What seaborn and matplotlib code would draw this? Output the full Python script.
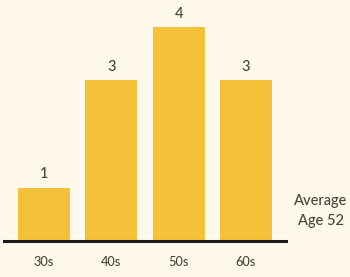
import matplotlib
matplotlib.use("Agg")
import matplotlib.pyplot as plt
import seaborn as sns
import pandas as pd

categories = ["30s", "40s", "50s", "60s"]
counts = [1, 3, 4, 3]
side_note = "Average\nAge 52"

bg = "#FEF9EC"
bar_color = "#F3C13A"
text_color = "#4A4536"

sns.set_theme(style="white")
plt.rcParams['font.family'] = ['Lato', 'DejaVu Sans']

df = pd.DataFrame({"age": categories, "count": counts})

fig = plt.figure(figsize=(3.5, 2.77), dpi=100)
fig.patch.set_facecolor(bg)
ax = fig.add_axes([4/350, 36/277, 282/350, 241/277])
ax.set_facecolor(bg)

sns.barplot(data=df, x="age", y="count", color=bar_color, width=0.77,
            saturation=1, ax=ax, edgecolor="none")

ax.set_xlim(-0.594, 3.594)
ax.set_ylim(0, 241/53.5)

for i, v in enumerate(counts):
    ax.annotate(str(v), (i, v), xytext=(0, 4.5), textcoords="offset points",
                ha="center", va="bottom", fontsize=10.5, color=text_color,
                fontweight="medium")

for s in ["top", "right", "left"]:
    ax.spines[s].set_visible(False)
ax.spines["bottom"].set_color("#1A1A1A")
ax.spines["bottom"].set_linewidth(2.2)
ax.set_yticks([])
ax.tick_params(axis="x", length=0, pad=11, labelsize=9.2, labelcolor=text_color)
for lbl in ax.get_xticklabels():
    lbl.set_fontweight("medium")
ax.set_xlabel("")
ax.set_ylabel("")

fig.text(321/350, 1 - 211/277, side_note, ha="center", va="center",
         fontsize=10.5, color=text_color, linespacing=1.55, fontweight="medium")

fig.savefig("out.png", dpi=100, facecolor=bg)
